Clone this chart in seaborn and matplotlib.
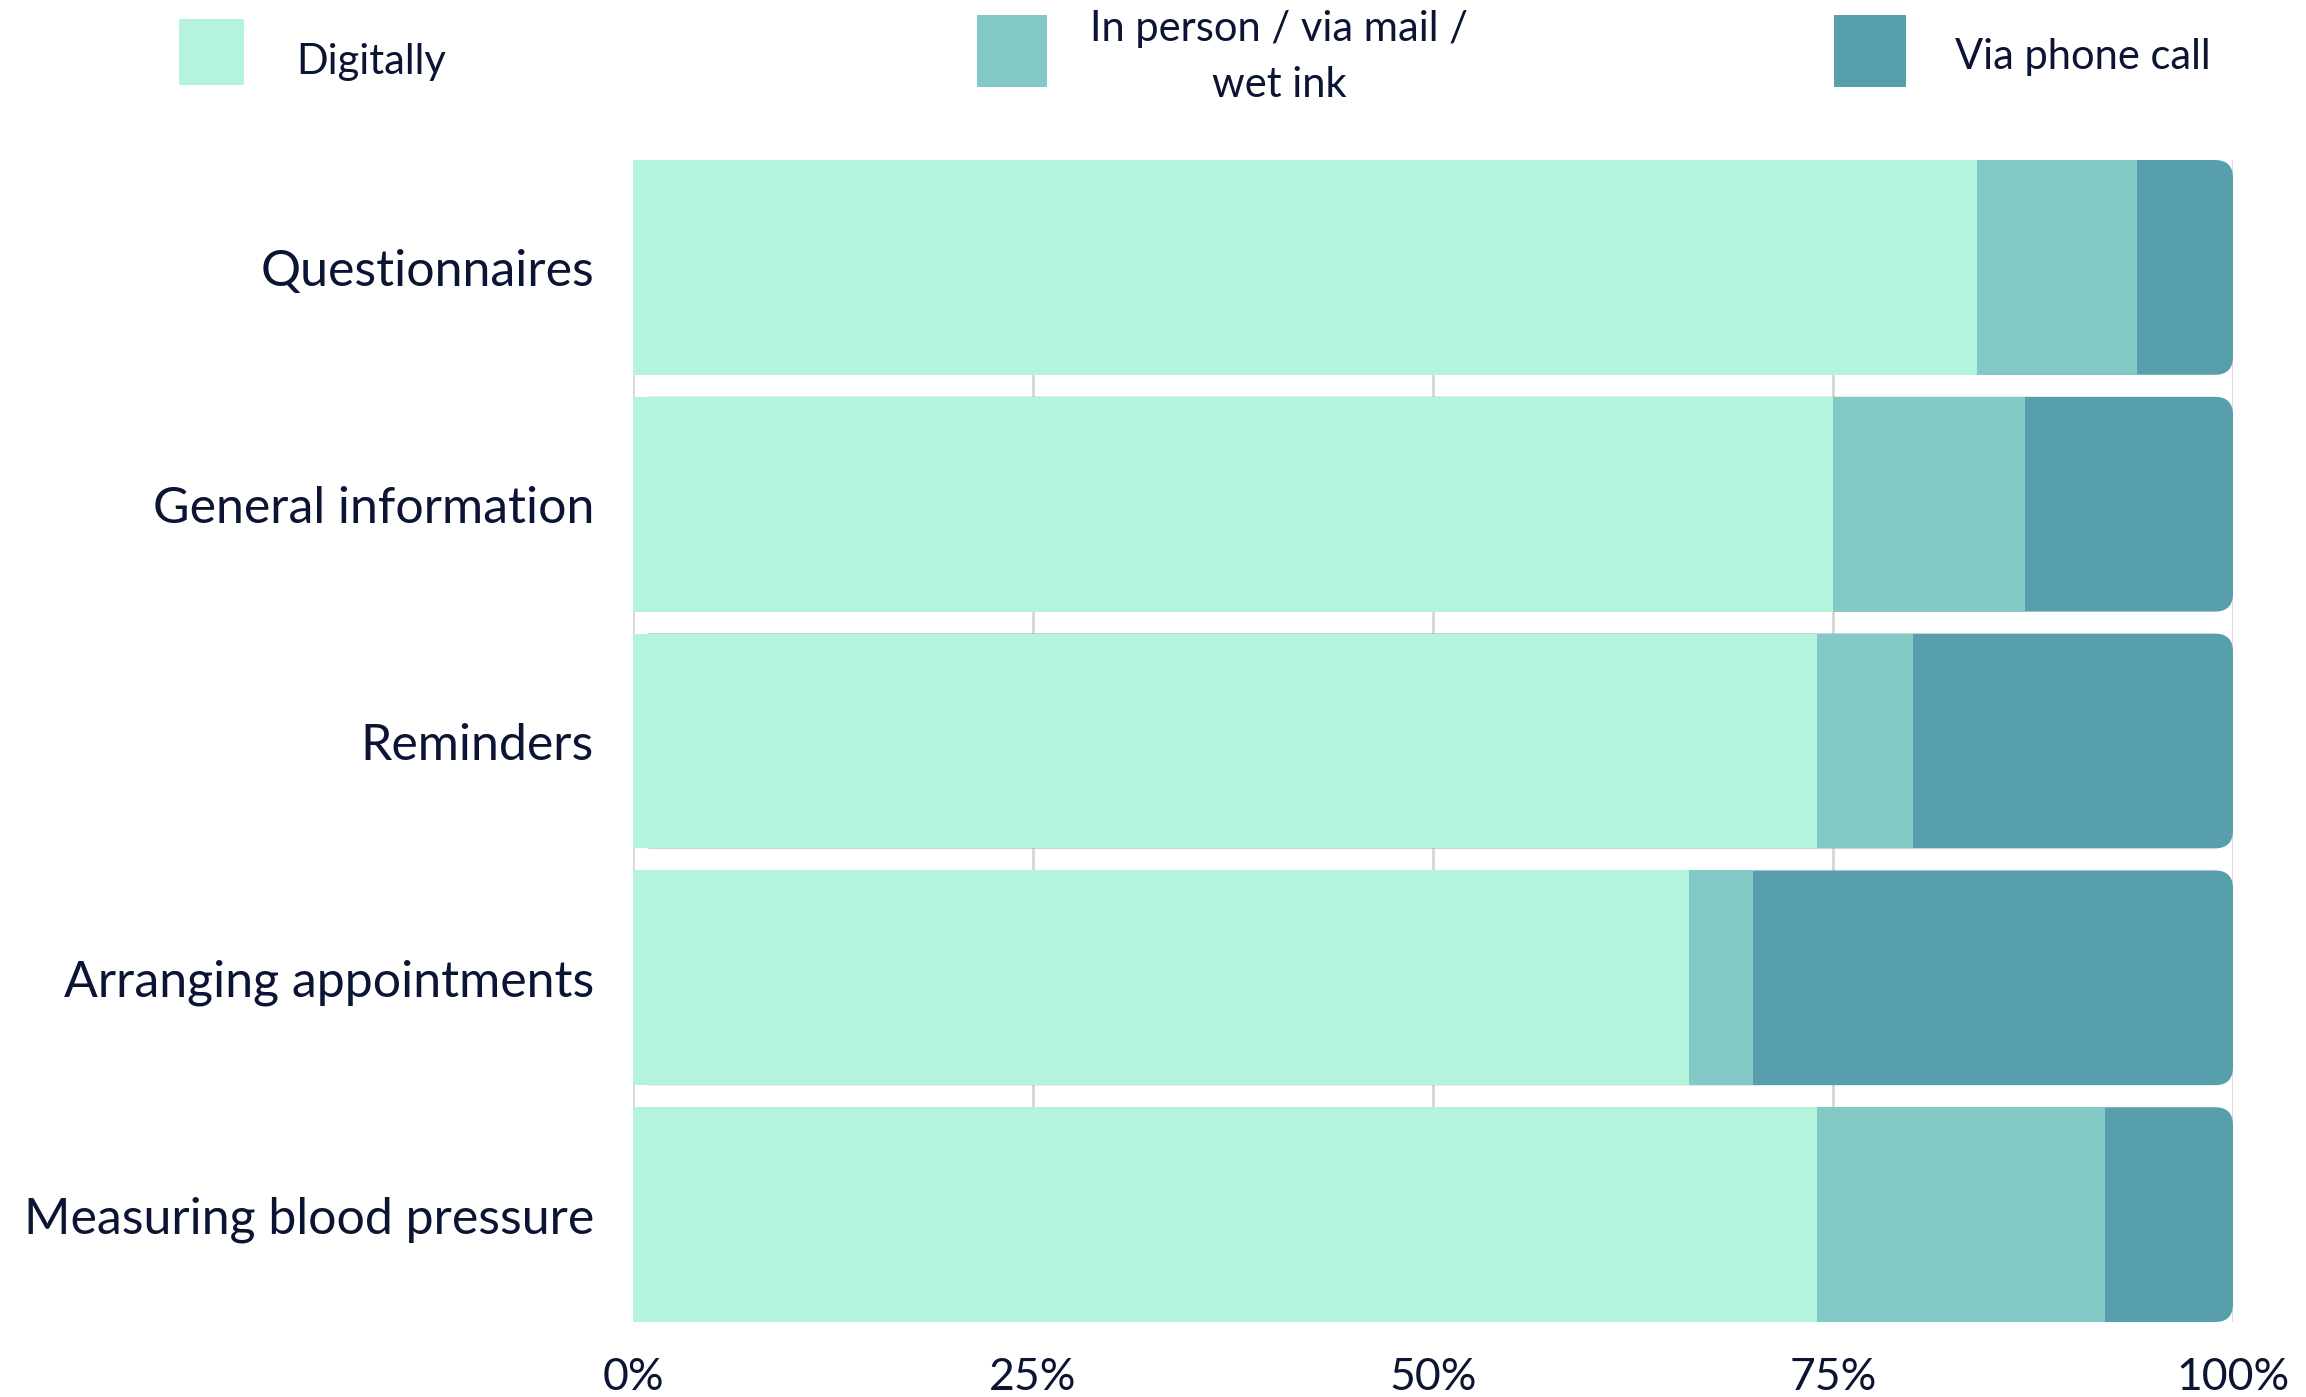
import numpy as np
import pandas as pd
import seaborn as sns
import matplotlib
matplotlib.use('Agg')
import matplotlib.pyplot as plt
from matplotlib.patches import FancyBboxPatch, Rectangle

# data
categories = ["Questionnaires", "General information", "Reminders",
              "Arranging appointments", "Measuring blood pressure"]
digitally = [84, 75, 74, 66, 74]
in_person = [10, 12, 6, 4, 18]
phone_call = [6, 13, 20, 30, 8]
series_names = ["Digitally", "In person / via mail /\nwet ink", "Via phone call"]
colors = ["#b4f3dc", "#83cac6", "#579fac"]
xticks = [0, 25, 50, 75, 100]
xtick_labels = ["0%", "25%", "50%", "75%", "100%"]

sns.set_theme(style="white")
plt.rcParams['font.family'] = ['Lato', 'DejaVu Sans']
text_color = "#0b1533"

df = pd.DataFrame({"category": categories, "digitally": digitally,
                   "in_person": in_person, "phone": phone_call})
df["cum1"] = df["digitally"]
df["cum2"] = df["cum1"] + df["in_person"]
df["cum3"] = df["cum2"] + df["phone"]

W, H = 2306, 1397
bar_w = 0.907
fig = plt.figure(figsize=(W / 100, H / 100), dpi=100)
ax_rect = [633 / W, 1 - 1322 / H, 1600 / W, 1162 / H]
ax = fig.add_axes(ax_rect)

# stacked bars drawn back to front as cumulative totals
for col, color in zip(["cum3", "cum2", "cum1"], colors[::-1]):
    sns.barplot(data=df, x=col, y="category", color=color, width=bar_w,
                saturation=1, ax=ax, linewidth=0)

ax.set_xlim(0, 100)
n = len(categories)
ax.set_ylim(n - 1 + bar_w / 2, -bar_w / 2)

# round the right end of the outermost segment
x_per_px = 100 / (ax_rect[2] * W)
y_per_px = (n - 1 + bar_w) / (ax_rect[3] * H)
radius = 18 * x_per_px
for bar in list(ax.containers[0]):
    bar.set_visible(False)
    ax.add_patch(FancyBboxPatch((bar.get_x(), bar.get_y()), bar.get_width(), bar.get_height(),
                                boxstyle=f"round,pad=0,rounding_size={radius}",
                                mutation_aspect=y_per_px / x_per_px,
                                fc=colors[2], ec="none", zorder=0.9))

ax.set_axisbelow(True)
ax.grid(axis='x', color="#d6d6d6", linewidth=2, zorder=0.5)
ax.grid(axis='y', visible=False)
sns.despine(ax=ax, left=True, bottom=True)

ax.set_xticks(xticks, xtick_labels)
ax.tick_params(axis='x', length=0, pad=25, labelsize=32, labelcolor=text_color)
ax.tick_params(axis='y', length=0, pad=28, labelsize=36, labelcolor=text_color)
ax.set_xlabel("")
ax.set_ylabel("")

# legend along the top, drawn by hand
legend_boxes = [(179, 19, 65, 66), (977, 15, 70, 72), (1834, 15, 72, 72)]
for (x, y, w, h), color in zip(legend_boxes, colors):
    fig.add_artist(Rectangle((x / W, 1 - (y + h) / H), w / W, h / H,
                             transform=fig.transFigure, fc=color, ec="none"))
fig.text(296 / W, 1 - 62 / H, series_names[0], fontsize=30, color=text_color,
         ha="left", va="center")
fig.text(1279 / W, 1 - 57 / H, series_names[1], fontsize=30, color=text_color,
         ha="center", va="center", multialignment="center", linespacing=1.6)
fig.text(1955 / W, 1 - 57 / H, series_names[2], fontsize=30, color=text_color,
         ha="left", va="center")

plt.savefig("out.png", dpi=100)
